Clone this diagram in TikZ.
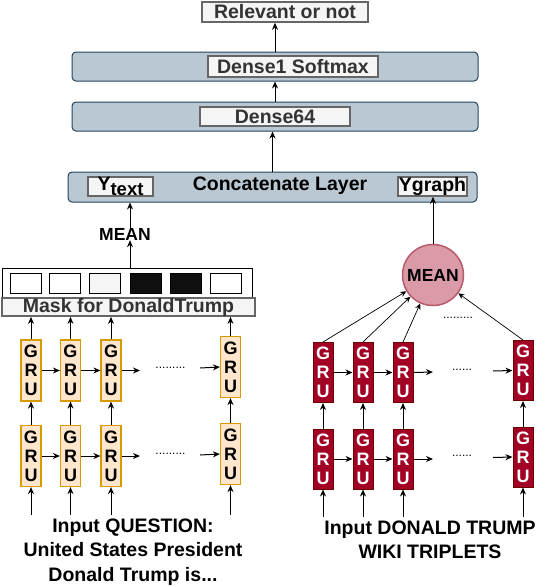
\documentclass[tikz,border=0pt]{standalone}
\usepackage{fontspec}
\setmainfont{Liberation Sans}
\usetikzlibrary{arrows.meta}
\definecolor{bluef}{HTML}{BAC8D3}
\definecolor{blued}{HTML}{23445D}
\definecolor{grayf}{HTML}{F5F5F5}
\definecolor{grayd}{HTML}{666666}
\definecolor{grayt}{HTML}{333333}
\definecolor{orf}{HTML}{FFE6CC}
\definecolor{ord}{HTML}{D79B00}
\definecolor{redf}{HTML}{A20025}
\definecolor{redd}{HTML}{6F0000}
\definecolor{pinkf}{HTML}{DA9AA8}
\definecolor{pinkd}{HTML}{B85A6A}
\definecolor{blk}{HTML}{0F0F0F}
\newcommand\myfs[1]{\fontsize{#1}{#1}\selectfont}
\tikzset{
  layer/.style={draw=blued, fill=bluef, rounded corners=4pt, line width=1pt, inner sep=0pt},
  glabel/.style={draw=grayd, fill=grayf, text=grayt, line width=1.6pt, inner sep=0pt, font=\bfseries\myfs{19.5}},
  btext/.style={inner sep=0pt, font=\bfseries\myfs{19.5}},
  gruo/.style={draw=ord, fill=orf, line width=1.2pt, minimum width=20pt, minimum height=61pt, inner sep=0pt, align=center, font=\bfseries\fontsize{18}{19}\selectfont},
  grur/.style={draw=redd, fill=redf, text=white, line width=1pt, minimum width=20pt, minimum height=60pt, inner sep=0pt, align=center, font=\bfseries\fontsize{18}{19}\selectfont},
  sq/.style={draw=black, line width=1pt, minimum width=31pt, minimum height=20pt, inner sep=0pt},
  arr/.style={-{Stealth[length=7pt,width=6pt]}, line width=1pt},
  tarr/.style={-{Stealth[length=6pt,width=5.5pt]}, line width=0.7pt},
  dots/.style={inner sep=0pt, font=\myfs{12}}
}
\begin{document}
\begin{tikzpicture}[x=1pt,y=-1pt]
\useasboundingbox (0,0) rectangle (557,587);
% top stack
\node[glabel, minimum width=166pt, minimum height=20pt] (rel) at (285,12) {Relevant or not};
\node[layer, minimum width=406pt, minimum height=29pt] (d1lay) at (275,66.5) {};
\node[glabel, minimum width=170pt, minimum height=21pt] (d1lab) at (293,66.5) {Dense1 Softmax};
\node[layer, minimum width=406pt, minimum height=29pt] (d64lay) at (275,116.5) {};
\node[glabel, minimum width=150pt, minimum height=19pt] (d64lab) at (275,116.5) {Dense64};
\node[layer, minimum width=409pt, minimum height=30pt] (concat) at (272.5,187) {};
\node[btext] (cattxt) at (280,186) {Concatenate Layer};
\node[glabel, text=black, minimum width=65pt, minimum height=19pt] (ytext) at (120.5,186.5) {\myfs{19.5}Y\raisebox{-5pt}{\myfs{18.5}text}};
\node[glabel, text=black, minimum width=69pt, minimum height=19pt] (ygraph) at (432.5,186.5) {Ygraph};
\draw[arr] (d1lay.north) -- (d1lay.north |- rel.south);
\draw[arr] (d64lay.north) -- (d64lay.north |- d1lay.south);
\draw[arr] (concat.north) -- (concat.north |- d64lay.south);
% left mask
\node[btext, font=\bfseries\myfs{17.5}] (meantxt) at (125,234) {MEAN};
\node[draw=black, fill=white, line width=1pt, minimum width=250pt, minimum height=30pt, inner sep=0pt] (mask) at (127,283) {};
\node[sq, fill=white] (s1) at (26,283) {};
\node[sq, fill=white] (s2) at (64.5,283) {};
\node[sq, fill=grayf] (s3) at (105,283) {};
\node[sq, fill=blk] (s4) at (145.5,283) {};
\node[sq, fill=blk] (s5) at (185.5,283) {};
\node[sq, fill=white] (s6) at (225.5,283) {};
\node[glabel, minimum width=253pt, minimum height=18pt] (masklab) at (128.5,307) {Mask for DonaldTrump};
\coordinate (mx) at (130,0);
\draw[arr] (mx |- mask.north) -- (mx |- meantxt.south);
\draw[arr] (mx |- meantxt.north) -- (mx |- concat.south);
% orange GRUs
\node[gruo] (gu1) at (31,370.5) {G\\R\\U};
\node[gruo] (gu2) at (70.5,370.5) {G\\R\\U};
\node[gruo] (gu3) at (111,370.5) {G\\R\\U};
\node[gruo] (gu4) at (230.5,367) {G\\R\\U};
\node[gruo] (gl1) at (31,456) {G\\R\\U};
\node[gruo] (gl2) at (70.5,456) {G\\R\\U};
\node[gruo] (gl3) at (111,456) {G\\R\\U};
\node[gruo] (gl4) at (230.5,454) {G\\R\\U};
\foreach \i in {1,2,3,4}{
  \draw[arr] (gu\i.north) -- (gu\i.north |- masklab.south);
  \draw[arr] (gl\i.north) -- (gu\i.south);
}
\coordinate (oi1) at (31,515);
\coordinate (oi2) at (70.5,515);
\coordinate (oi3) at (111,515);
\coordinate (oi4) at (230.5,515);
\foreach \i in {1,2,3,4}{ \draw[arr] (oi\i) -- (gl\i.south); }
\draw[arr] (gu1.east) -- (gu2.west);
\draw[arr] (gu2.east) -- (gu3.west);
\coordinate (ou3) at (140,370.5);
\draw[arr] (gu3.east) -- (ou3);
\node[dots] (odu) at (170.5,368) {.........};
\coordinate (ou4) at (200,368);
\draw[arr] (ou4) -- (gu4.west);
\draw[arr] (gl1.east) -- (gl2.west);
\draw[arr] (gl2.east) -- (gl3.west);
\coordinate (ol3) at (140,456);
\draw[arr] (gl3.east) -- (ol3);
\node[dots] (odl) at (170.5,454) {.........};
\coordinate (ol4) at (200,455);
\draw[arr] (ol4) -- (gl4.west);
\node[btext, align=center, font=\bfseries\fontsize{19.5}{24.5}\selectfont] (qtxt) at (133,552) {Input QUESTION:\\United States President\\Donald Trump is...};
% right side
\node[circle, draw=pinkd, fill=pinkf, line width=1.5pt, minimum size=61pt, inner sep=0pt, font=\bfseries\myfs{17.5}] (meanc) at (433,275) {MEAN};
\draw[arr] (meanc.north) -- (meanc.north |- ygraph.south);
\node[grur] (ru1) at (323,372.5) {G\\R\\U};
\node[grur] (ru2) at (363,372.5) {G\\R\\U};
\node[grur] (ru3) at (403,372.5) {G\\R\\U};
\node[grur] (ru4) at (523,370.5) {G\\R\\U};
\node[grur] (rl1) at (323,459) {G\\R\\U};
\node[grur] (rl2) at (363,459) {G\\R\\U};
\node[grur] (rl3) at (403,459) {G\\R\\U};
\node[grur] (rl4) at (523,457) {G\\R\\U};
\foreach \i in {1,2,3,4}{
  \draw[tarr] (ru\i.north) -- (meanc);
  \draw[arr] (rl\i.north) -- (ru\i.south);
}
\node[dots] (rdm) at (458,318) {.........};
\coordinate (ri1) at (323,517);
\coordinate (ri2) at (363,517);
\coordinate (ri3) at (403,517);
\coordinate (ri4) at (523,517);
\foreach \i in {1,2,3,4}{ \draw[arr] (ri\i) -- (rl\i.south); }
\draw[arr] (ru1.east) -- (ru2.west);
\draw[arr] (ru2.east) -- (ru3.west);
\coordinate (ru3o) at (433,372);
\draw[arr] (ru3.east) -- (ru3o);
\node[dots] (rdu) at (462,370) {......};
\coordinate (ru4i) at (493,371);
\draw[arr] (ru4i) -- (ru4.west);
\draw[arr] (rl1.east) -- (rl2.west);
\draw[arr] (rl2.east) -- (rl3.west);
\coordinate (rl3o) at (433,459);
\draw[arr] (rl3.east) -- (rl3o);
\node[dots] (rdl) at (462,456) {......};
\coordinate (rl4i) at (493,457.5);
\draw[arr] (rl4i) -- (rl4.west);
\node[btext, align=center, font=\bfseries\fontsize{19.5}{24}\selectfont] (wtxt) at (430,540) {Input DONALD TRUMP\\WIKI TRIPLETS};
\end{tikzpicture}
\end{document}
